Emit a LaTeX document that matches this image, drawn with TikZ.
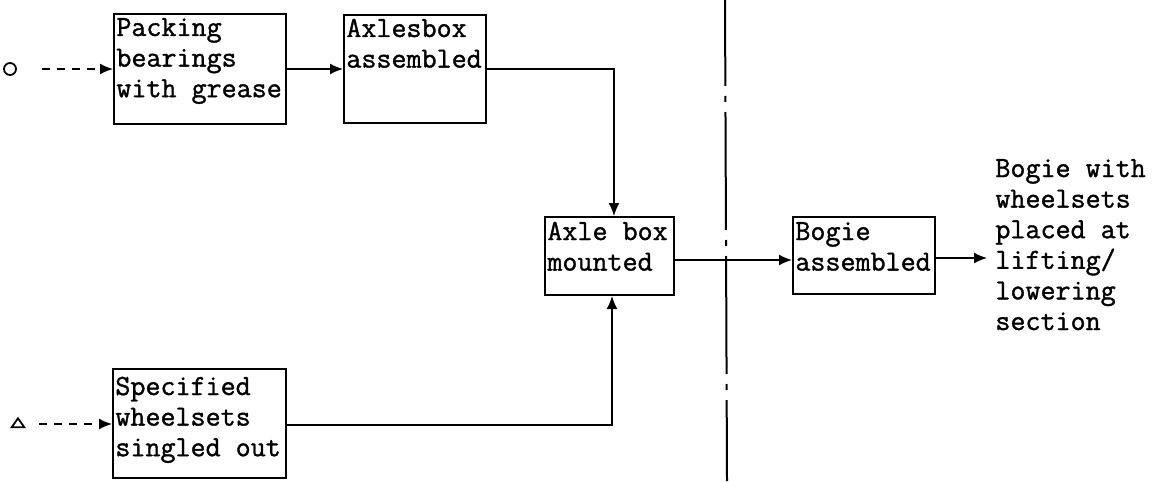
\documentclass[tikz,border=0pt]{standalone}
\usepackage{fontspec}
\setmainfont{Latin Modern Mono}[FakeBold=1.2]
\usetikzlibrary{arrows.meta,shapes.geometric}
\newcommand{\tx}[1]{\begin{tabular}[t]{@{}l@{}}#1\end{tabular}}
\tikzset{
  box/.style={draw,line width=1pt,inner sep=0pt,anchor=center},
  lbl/.style={anchor=base west,inner sep=0pt,font=\fontsize{14.6pt}{15.3pt}\selectfont},
  conn/.style={line width=0.8pt,-{Latex[length=6.5pt,width=5.5pt]}},
  dconn/.style={conn,dash pattern=on 4pt off 3.5pt},
  divider/.style={line width=1pt,dash pattern=on 59pt off 5pt on 3pt off 5pt,dash phase=16pt}
}
\begin{document}
\begin{tikzpicture}[x=0.5pt,y=-0.5pt]
\useasboundingbox (0,0) rectangle (1154,481);
% boxes
\node[box,minimum width=86pt,minimum height=55pt] (b1) at (200,69) {};
\node[box,minimum width=71pt,minimum height=54pt] (b2) at (415,69) {};
\node[box,minimum width=64.5pt,minimum height=39pt] (b3) at (609.5,256) {};
\node[box,minimum width=71pt,minimum height=38.5pt] (b4) at (864,255.5) {};
\node[box,minimum width=86.5pt,minimum height=54.5pt] (b5) at (199.5,423.5) {};
% labels
\node[lbl] (t1) at (116,36) {\tx{Packing\\bearings\\with grease}};
\node[lbl] (t2) at (346,37) {\tx{Axlesbox\\assembled}};
\node[lbl] (t3) at (547,240) {\tx{Axle box\\mounted}};
\node[lbl] (t4) at (795,240) {\tx{Bogie\\assembled}};
\node[lbl] (t5) at (115,395) {\tx{Specified\\wheelsets\\singled out}};
\node[lbl] (out) at (995,177) {\tx{Bogie with\\wheelsets\\placed at\\lifting/\\lowering\\section}};
\coordinate (outin) at (987,258);
% sources
\node[draw,circle,line width=0.9pt,minimum width=6pt,minimum height=6pt,inner sep=0pt] (o) at (10,69) {};
\node[draw,isosceles triangle,isosceles triangle apex angle=70,shape border rotate=90,line width=0.9pt,minimum height=4.5pt,minimum width=6pt,inner sep=0pt] (tri) at (18,424) {};
% connectors
\draw[dconn] ([xshift=12.5pt]o.east) -- (o.east -| b1.west);
\draw[dconn] ([xshift=8pt]tri.east) -- (tri.east -| b5.west);
\draw[conn] (b1.east) -- (b2.west);
\draw[conn] (b2.east) -| ([xshift=2.25pt]b3.north);
\draw[conn] ([yshift=-0.75pt]b5.east) -| ([xshift=1.25pt]b3.south);
\draw[conn] ([yshift=-2pt]b3.east) -- ([yshift=-2pt]b3.east -| b4.west);
\draw[conn] ([yshift=-1.25pt]b4.east) -- (outin);
% divider
\coordinate (d1) at (725,0);
\coordinate (d2) at (727,481);
\draw[divider] (d1) -- (d2);
\end{tikzpicture}
\end{document}
